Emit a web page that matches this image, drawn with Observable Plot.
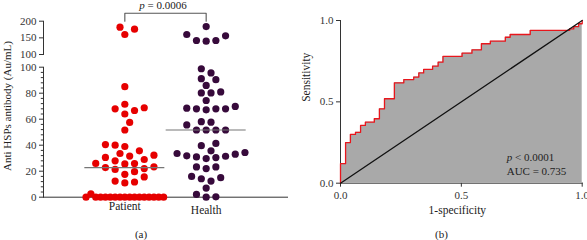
<!DOCTYPE html>
<html><head><meta charset="utf-8">
<script src="https://cdn.jsdelivr.net/npm/d3@7"></script>
<script src="https://cdn.jsdelivr.net/npm/@observablehq/plot@0.6"></script>
<style>
body{margin:0;background:#fff;}
#wrap{position:relative;width:587px;height:240px;overflow:hidden;font-family:"Liberation Serif","Times New Roman",serif;color:#222;}
#wrap svg{position:absolute;left:0;top:0;}
#wrap svg, #wrap svg g, #wrap svg text{font-family:"Liberation Serif","Times New Roman",serif !important;}
.lab{position:absolute;white-space:nowrap;transform:translate(-50%,-50%);font-size:11px;line-height:1;}
.labl{position:absolute;white-space:nowrap;transform:translate(0,-50%);font-size:11px;line-height:1;}
</style></head><body><div id="wrap"></div>
<script>
// ---------- data ----------
const groups = ["Patient", "Health"];
const patientLow = [0,0,0,0,0,0,0,0,0,0,0,0,0,0,0,0,2.6,11,11.7,12.4,15.6,17.6,19.6,21.4,22,22.8,23.4,25.6,25.9,26,28,29,30.6,31.6,32.3,33.6,35.7,39,40,40.5,51.7,57.5,64,66.7,68,68.8,71.5,85];
const patientHigh = [160,176,182];
const healthLow = [98.8,95.6,90.4,91.2,86,80.2,80.2,81,74.4,69.8,68.5,68,68,68,67.2,58.1,57.7,55.6,51.7,51.7,51.7,51.7,41.4,39.6,35.7,34.4,33.6,33.1,31.8,31.5,31,30.5,29.7,23.3,23.3,22,16,15,14.2,12.4,7,2.1,0.3,0];
const healthHigh = [184,160,156,142,142,140];
const lowTicks = [0,20,40,60,80,100];
const highTicks = [100,150,200];
const rocFpr = [0,0,0.021,0.041,0.062,0.083,0.103,0.14,0.161,0.182,0.223,0.262,0.303,0.324,0.344,0.381,0.404,0.424,0.503,0.544,0.583,0.62,0.682,0.702,0.785,0.948,0.965,0.985,1];
const rocTpr = [0,0.12,0.25,0.30,0.313,0.355,0.375,0.396,0.457,0.519,0.617,0.637,0.652,0.678,0.699,0.719,0.744,0.779,0.799,0.82,0.857,0.873,0.897,0.914,0.939,0.948,0.962,0.98,1];
const rocTicks = [0,0.5,1];
const chanceLine = [0,1];
const colors = ["#e60000", "#370a3b"];

// ---------- layout ----------
const W = 587, H = 240;
const aLeft = 43, aRight = 287, xDomain = [0, 3];
const pxPerX = (aRight - aLeft) / (xDomain[1] - xDomain[0]);
const lowTop = 66.7, lowBottom = 196.7, highTop = 20.7, highBottom = 54;
const kLow = (lowBottom - lowTop) / 100, kHigh = (highBottom - highTop) / 100;
const serif = "'Liberation Serif', 'Times New Roman', serif";
const font = `font-family: ${serif}; font-size: 11px; color: #333; background: transparent; overflow: hidden;`;

// beeswarm (scatter-dot) layout computed from values
function swarm(values, k) {
  const step = 4.85, minD = 8, kmax = 8;
  const order = d3.range(values.length).sort((a, b) => values[a] - values[b]);
  const placed = [], off = [];
  for (const i of order) {
    const y = values[i] * k;
    let best = 0, bestD = -1;
    for (let j = 0; j <= 2 * kmax; j++) {
      const c = j === 0 ? 0 : (j % 2 ? 1 : -1) * Math.ceil(j / 2) * step;
      const d = placed.length ? d3.min(placed, p => Math.hypot(p.x - c, p.y - y)) : Infinity;
      if (d >= minD) { best = c; bestD = d; break; }
      if (d > bestD) { best = c; bestD = d; }
    }
    off[i] = best;
    placed.push({x: best, y});
  }
  return off;
}
function dots(values, gi, k) {
  const off = swarm(values, k);
  return values.map((v, i) => ({g: gi, x: gi + 1 + off[i] / pxPerX, v}));
}
const lowDots = [...dots(patientLow, 0, kLow), ...dots(healthLow, 1, kLow)];
const highDots = [...dots(patientHigh, 0, kHigh), ...dots(healthHigh, 1, kHigh)];
const medians = [
  {g: 1, m: d3.median([...patientLow, ...patientHigh])},
  {g: 2, m: d3.median([...healthLow, ...healthHigh])}
];
const minorTicks = d3.range(0, 101, 4).filter(v => !lowTicks.includes(v));
const bTop = 200 + 8 / kHigh;
const bracket = [{x: 1, y: 200}, {x: 1, y: bTop}, {x: 2, y: bTop}, {x: 2, y: 200}];

const wrap = document.getElementById("wrap");
function add(svg) {
  svg.setAttribute("font-family", serif);
  svg.querySelectorAll("g, text").forEach(el => {
    if (el.hasAttribute("font-family")) el.setAttribute("font-family", serif);
    if (el.tagName === "text") el.style.fontFamily = serif;
  });
  wrap.append(svg);
}

// panel (a) lower segment
add(Plot.plot({
  width: W, height: H,
  marginLeft: aLeft, marginRight: W - aRight, marginTop: lowTop, marginBottom: H - lowBottom,
  style: font,
  x: {domain: xDomain, ticks: [1, 2], tickSize: 3, tickFormat: () => "", label: null, line: true},
  y: {domain: [0, 100], ticks: lowTicks, tickSize: 4, tickPadding: 3, label: null, line: true},
  marks: [
    Plot.ruleY(minorTicks, {y: d => d, x1: 0, x2: -2.2 / pxPerX, stroke: "#333"}),
    Plot.dot(lowDots, {x: "x", y: "v", r: 3.6, fill: d => colors[d.g]}),
    Plot.ruleY(medians, {y: "m", x1: d => d.g - 40 / pxPerX, x2: d => d.g + 40 / pxPerX, stroke: "#777", strokeWidth: 1.2}),
    Plot.text([groups[0]], {x: () => 1, frameAnchor: "bottom", dy: 12.5, fill: "#222", fontSize: 11.5}),
    Plot.text([groups[1]], {x: () => 2, frameAnchor: "bottom", dy: 16.5, fill: "#222", fontSize: 11.5})
  ]
}));

// panel (a) upper segment
add(Plot.plot({
  width: W, height: H,
  marginLeft: aLeft, marginRight: W - aRight, marginTop: highTop, marginBottom: H - highBottom,
  style: font,
  x: {domain: xDomain, axis: null},
  y: {domain: [100, 200], ticks: highTicks, tickSize: 4, tickPadding: 3, label: null, line: true},
  marks: [
    Plot.dot(highDots, {x: "x", y: "v", r: 3.6, fill: d => colors[d.g]}),
    Plot.line(bracket, {x: "x", y: "y", stroke: "#555", strokeWidth: 1.1})
  ]
}));

// panel (b) ROC
const roc = rocFpr.map((f, i) => ({fpr: f, tpr: rocTpr[i]}));
add(Plot.plot({
  width: W, height: H,
  marginLeft: 340, marginRight: W - 581.7, marginTop: 20, marginBottom: H - 182.7,
  style: font,
  x: {domain: [0, 1], ticks: rocTicks, tickFormat: d3.format(".1f"), tickSize: 4, tickPadding: 4, label: null, line: true},
  y: {domain: [0, 1], ticks: rocTicks, tickFormat: d3.format(".1f"), tickSize: 4, tickPadding: 3, label: null, line: true},
  marks: [
    Plot.areaY(roc, {x: "fpr", y: "tpr", curve: "step-after", fill: "#a9a9a9"}),
    Plot.line(roc, {x: "fpr", y: "tpr", curve: "step-after", stroke: "#e8161c", strokeWidth: 1.3}),
    Plot.line(chanceLine, {x: d => d, y: d => d, stroke: "#111", strokeWidth: 1.3}),
    Plot.text(["Sensitivity"], {frameAnchor: "left", dx: -34, rotate: -90, fill: "#222", fontSize: 11.5}),
    Plot.text(["1-specificity"], {frameAnchor: "bottom", dy: 30.5, dx: -4, fill: "#222", fontSize: 11.5})
  ]
}));

// text annotations
function addLabel(html, x, y, cls) {
  const d = document.createElement("div");
  d.className = cls || "lab";
  d.style.left = x + "px"; d.style.top = y + "px";
  d.innerHTML = html;
  wrap.append(d);
  return d;
}
const yl = addLabel("Anti HSPs antibody (Au/mL)", 6.5, 106);
yl.style.transform = "translate(-50%,-50%) rotate(-90deg)";
addLabel("<i>p</i> = 0.0006", 163, 5);
addLabel("(a)", 141, 233.5);
addLabel("(b)", 441.5, 234);
addLabel("<i>p</i> &lt; 0.0001", 506.7, 157.3, "labl");
addLabel("AUC = 0.735", 506.7, 170.7, "labl");
</script></body></html>
